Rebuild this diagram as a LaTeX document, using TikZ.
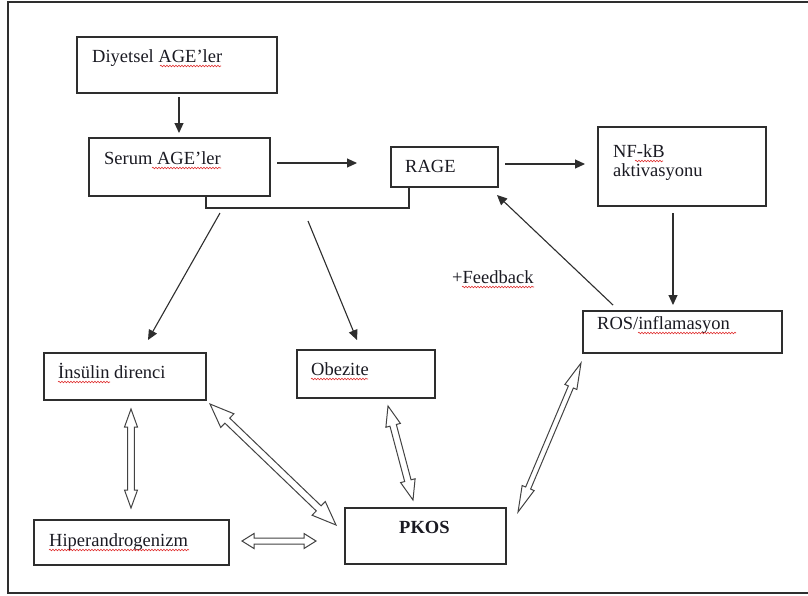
\documentclass[tikz,border=0pt]{standalone}
\usepackage{fontspec}
\setmainfont{Liberation Serif}
\usetikzlibrary{arrows.meta,decorations.pathmorphing}
\definecolor{ink}{HTML}{1A1A22}
\definecolor{edge}{HTML}{2E2E2E}
\definecolor{spell}{HTML}{E03030}
\tikzset{
  box/.style={draw=edge, line width=1.2pt, inner sep=0pt, outer sep=0pt, anchor=north west, fill=white},
  txt/.style={anchor=base west, inner sep=0pt, text=ink, font=\fontsize{18.5}{22}\selectfont},
  arr/.style={draw=edge, line width=1.1pt, -{Triangle[length=10pt,width=9pt]}},
  plain/.style={draw=edge, line width=1.2pt},
  hollow/.style={draw=edge!90, line width=1pt, fill=white, line join=miter},
  squig/.style={draw=spell, line width=0.6pt, decorate, decoration={snake, segment length=3pt, amplitude=0.8pt}}
}
\newcommand\hollowdbl[5]{%
  \path (#1); \pgfgetlastxy{\hax}{\hay}%
  \path (#2); \pgfgetlastxy{\hbx}{\hby}%
  \pgfmathsetmacro\hang{atan2(\hby-\hay,\hbx-\hax)}%
  \pgfmathsetmacro\hlen{veclen(\hbx-\hax,\hby-\hay)}%
  \pgfmathsetmacro\hbase{\hlen-#3}%
  \begin{scope}[shift={(\hax,\hay)}, rotate=\hang]
    \draw[hollow] (0pt,0pt) -- (#3pt,#4pt) -- (#3pt,#5pt) -- (\hbase pt,#5pt) -- (\hbase pt,#4pt)
      -- (\hlen pt,0pt) -- (\hbase pt,-#4pt) -- (\hbase pt,-#5pt) -- (#3pt,-#5pt) -- (#3pt,-#4pt) -- cycle;
  \end{scope}%
}
\begin{document}
\begin{tikzpicture}[x=1pt,y=-1pt]
\useasboundingbox (0,0) rectangle (808,595);
\fill[white] (0,0) rectangle (808,595);
% outer frame
\draw[edge, line width=1.3pt] (808,2) -- (8,2) -- (8,593) -- (808,593);

% boxes
\node[box, minimum width=200pt, minimum height=56pt] (diy) at (77,37) {};
\node[box, minimum width=181pt, minimum height=58pt] (ser) at (89,138) {};
\node[box, minimum width=107pt, minimum height=40pt] (rage) at (391,147) {};
\node[box, minimum width=168pt, minimum height=79pt] (nfkb) at (598,127) {};
\node[box, minimum width=199pt, minimum height=42pt] (ros) at (583,311) {};
\node[box, minimum width=162pt, minimum height=47pt] (ins) at (44,353) {};
\node[box, minimum width=138pt, minimum height=48pt] (obe) at (297,350) {};
\node[box, minimum width=195pt, minimum height=45pt] (hip) at (34,520) {};
\node[box, minimum width=161pt, minimum height=56pt] (pkos) at (345,508) {};

% texts
\node[txt] (tdiy) at (92,62) {Diyetsel AGE’ler};
\node[txt] (tser) at (104,164) {Serum AGE’ler};
\node[txt] (trage) at (405,172) {RAGE};
\node[txt] (tnf1) at (613,157) {NF-kB};
\node[txt] (tnf2) at (613,176) {aktivasyonu};
\node[txt] (tros) at (597,329) {ROS/inflamasyon};
\node[txt] (tfb) at (452,283) {+Feedback};
\node[txt] (tins) at (58,378) {İnsülin direnci};
\node[txt] (tobe) at (311,375) {Obezite};
\node[txt] (thip) at (49,546) {Hiperandrogenizm};
\node[txt, font=\fontsize{18.5}{22}\selectfont\bfseries] (tpk) at (399,533) {PKOS};

% spell-check underlines
\draw[squig] (160,66) -- (221,66);
\draw[squig] (152,168) -- (221,168);
\draw[squig] (635,161) -- (663,161);
\draw[squig] (638,333) -- (736,333);
\draw[squig] (462,287) -- (534,287);
\draw[squig] (58,382) -- (110,382);
\draw[squig] (311,379) -- (368,379);
\draw[squig] (49,550) -- (189,550);

% coordinates for connector ends
\coordinate (d1) at (179,97);  \coordinate (d2) at (179,133);
\coordinate (s1) at (277,163); \coordinate (s2) at (357,163);
\coordinate (r1) at (505,164); \coordinate (r2) at (585,164);
\coordinate (n1) at (673,213); \coordinate (n2) at (673,305);
\coordinate (f1) at (613,305); \coordinate (f2) at (497,195);
\coordinate (jl) at (206,208); \coordinate (jr) at (409,208);
\coordinate (a1) at (220,213); \coordinate (a2) at (148,340);
\coordinate (b1) at (308,221); \coordinate (b2) at (357,340);

% single arrows
\draw[arr] (d1) -- (d2);
\draw[arr] (s1) -- (s2);
\draw[arr] (r1) -- (r2);
\draw[arr] (n1) -- (n2);
\draw[arr] (f1) -- (f2);
\draw[plain] (ser.south -| jl) -- (jl) -- (jr) -- (rage.south -| jr);
\draw[arr] (a1) -- (a2);
\draw[arr] (b1) -- (b2);

% hollow double arrows
\coordinate (ih1) at (131,409); \coordinate (ih2) at (131,508);
\coordinate (hp1) at (242,541); \coordinate (hp2) at (316,541);
\coordinate (ip1) at (210,404); \coordinate (ip2) at (336,525);
\coordinate (op1) at (388,406); \coordinate (op2) at (413,500);
\coordinate (rp1) at (581,363); \coordinate (rp2) at (518,512);
\hollowdbl{ih1}{ih2}{18}{6.5}{3.3}
\hollowdbl{hp1}{hp2}{12}{7.5}{3}
\hollowdbl{ip1}{ip2}{24}{9.5}{3.5}
\hollowdbl{op1}{op2}{20}{7.5}{3.3}
\hollowdbl{rp1}{rp2}{26}{6.5}{2.7}
\end{tikzpicture}
\end{document}
